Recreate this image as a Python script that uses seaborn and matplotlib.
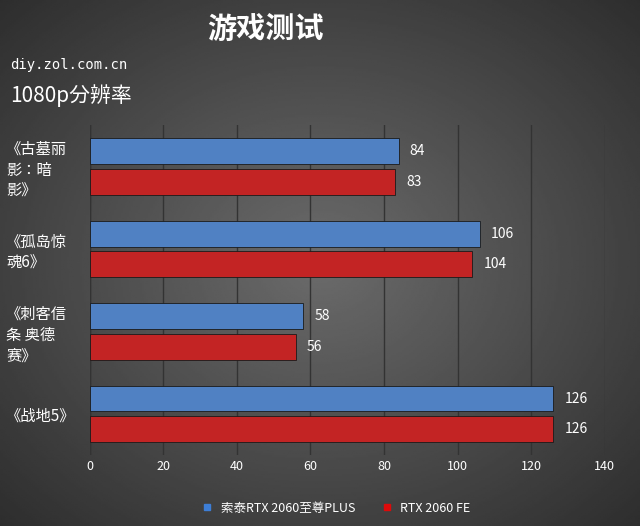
import pandas as pd
import numpy as np
import matplotlib.pyplot as plt
from matplotlib import font_manager
import seaborn as sns

games = ['《古墓丽\n影：暗\n影》', '《孤岛惊\n魂6》', '《刺客信\n条 奥德\n赛》', '《战地5》']
series = ['索泰RTX 2060至尊PLUS', 'RTX 2060 FE']
zotac = [84, 106, 58, 126]
fe = [83, 104, 56, 126]
xticks = [0, 20, 40, 60, 80, 100, 120, 140]

df = pd.DataFrame({
    'game': games * 2,
    'series': [series[0]] * 4 + [series[1]] * 4,
    'fps': zotac + fe,
})

# register a CJK font explicitly
cjk_files = [f for f in font_manager.findSystemFonts() if 'CJK' in f and 'Regular' in f] or \
            [f for f in font_manager.findSystemFonts() if 'CJK' in f]
cjk_name = 'Noto Sans CJK SC'
if cjk_files:
    font_manager.fontManager.addfont(cjk_files[0])
    cjk_name = font_manager.FontProperties(fname=cjk_files[0]).get_name()
plt.rcParams['font.family'] = [cjk_name, 'DejaVu Sans']

fig = plt.figure(figsize=(6.4, 5.26), dpi=100)

# dark radial-ish background
bg = fig.add_axes([0, 0, 1, 1], zorder=-10)
yy, xx = np.mgrid[-1:1:300j, -1:1:300j]
r = np.sqrt(xx ** 2 + yy ** 2)
bg.imshow(0.42 - 0.17 * r, cmap='gray', vmin=0, vmax=1, aspect='auto', extent=[0, 1, 0, 1])
bg.axis('off')

ax = fig.add_axes([0.14, 0.135, 0.805, 0.627])
ax.patch.set_visible(False)
palette = {series[0]: '#3d7ed6', series[1]: '#dd0a0a'}
sns.barplot(data=df, y='game', x='fps', hue='series', palette=palette, orient='h',
            width=0.74, gap=0.15, edgecolor='#1a1a1a', linewidth=0.6, ax=ax, legend=False)

for cont in ax.containers:
    ax.bar_label(cont, padding=8, color='white', fontsize=10)

ax.set_xlim(0, 140)
ax.set_xticks(xticks)
ax.set_xlabel('')
ax.set_ylabel('')
ax.tick_params(colors='white', labelsize=9, length=0)
ax.tick_params(axis='y', labelsize=11)
for lbl in ax.get_yticklabels():
    lbl.set_linespacing(1.3)
    lbl.set_horizontalalignment('left')
    lbl.set_x(-0.135 / 0.805 + 0.015)
ax.grid(axis='x', color='#333333', linewidth=1)
ax.set_axisbelow(True)
for s in ax.spines.values():
    s.set_visible(False)
ax.axvline(0, color='#333333', linewidth=1, zorder=0)

handles = [plt.Line2D([], [], marker='s', linestyle='', color=palette[s], markersize=5) for s in series]
fig.legend(handles, series, loc='lower center', bbox_to_anchor=(0.52, 0.0), ncol=2, frameon=False,
           labelcolor='white', fontsize=9, handletextpad=0.1, columnspacing=1.5)

fig.text(0.415, 0.945, '游戏测试', color='white', fontsize=21, ha='center', va='center', weight='bold')
fig.text(0.016, 0.876, 'diy.zol.com.cn', color='white', fontsize=10, family='DejaVu Sans Mono', va='center')
fig.text(0.016, 0.818, '1080p分辨率', color='white', fontsize=15, va='center')

fig.savefig('out.png', dpi=100)
